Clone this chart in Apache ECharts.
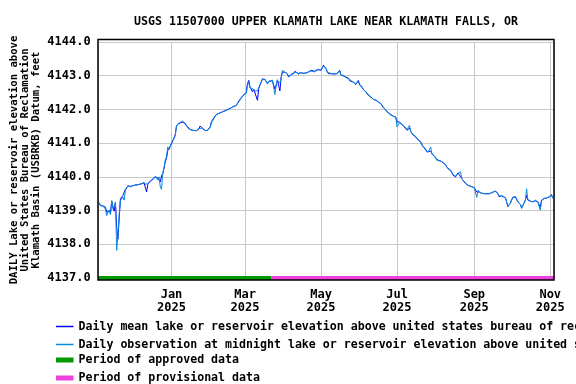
<!DOCTYPE html>
<html>
<head>
<meta charset="utf-8">
<script src="https://cdn.jsdelivr.net/npm/echarts@6/dist/echarts.min.js"></script>
<style>
    html, body { margin: 0; padding: 0; background: #fff; }
    #chart { width: 576px; height: 384px; }
</style>
</head>
<body>
<div id="chart"></div>
<script>
// dates of the readings (read off the plot, not every day)
const dates = [
    '2024-11-04','2024-11-05','2024-11-07','2024-11-09','2024-11-10','2024-11-12','2024-11-13','2024-11-14','2024-11-15','2024-11-16',
    '2024-11-17','2024-11-18','2024-11-19','2024-11-20','2024-11-21','2024-11-23','2024-11-24','2024-11-25','2024-11-27','2024-11-29',
    '2024-12-01','2024-12-03','2024-12-06','2024-12-08','2024-12-10','2024-12-11','2024-12-12','2024-12-13','2024-12-14','2024-12-15',
    '2024-12-17','2024-12-18','2024-12-19','2024-12-21','2024-12-22','2024-12-23','2024-12-24','2024-12-25','2024-12-26','2024-12-27',
    '2024-12-28','2024-12-29','2024-12-30','2024-12-31',
    '2025-01-01','2025-01-02','2025-01-03','2025-01-04','2025-01-05','2025-01-06','2025-01-08','2025-01-09','2025-01-10','2025-01-12',
    '2025-01-13','2025-01-14','2025-01-16','2025-01-18','2025-01-21','2025-01-23','2025-01-24','2025-01-26','2025-01-28','2025-01-30',
    '2025-02-01','2025-02-02','2025-02-04','2025-02-06','2025-02-09','2025-02-11','2025-02-14','2025-02-17','2025-02-19','2025-02-22',
    '2025-02-23','2025-02-25','2025-02-26','2025-02-28',
    '2025-03-02','2025-03-03','2025-03-04','2025-03-05','2025-03-07','2025-03-08','2025-03-09','2025-03-11','2025-03-12','2025-03-13',
    '2025-03-15','2025-03-17','2025-03-19','2025-03-20','2025-03-21','2025-03-23','2025-03-24','2025-03-25','2025-03-26','2025-03-27',
    '2025-03-28','2025-03-29','2025-03-30','2025-03-31',
    '2025-04-02','2025-04-04','2025-04-05','2025-04-07','2025-04-09','2025-04-10','2025-04-11','2025-04-13','2025-04-14','2025-04-15',
    '2025-04-17','2025-04-18','2025-04-19','2025-04-21','2025-04-22','2025-04-23','2025-04-24','2025-04-26','2025-04-27','2025-04-29',
    '2025-04-30',
    '2025-05-01','2025-05-02','2025-05-03','2025-05-04','2025-05-05','2025-05-06','2025-05-07','2025-05-08','2025-05-09','2025-05-11',
    '2025-05-12','2025-05-14','2025-05-15','2025-05-16','2025-05-17','2025-05-19','2025-05-20','2025-05-21','2025-05-23','2025-05-24',
    '2025-05-25','2025-05-27','2025-05-28','2025-05-29','2025-05-30','2025-05-31',
    '2025-06-01','2025-06-03','2025-06-04','2025-06-06','2025-06-07','2025-06-08','2025-06-10','2025-06-11','2025-06-12','2025-06-14',
    '2025-06-15','2025-06-16','2025-06-18','2025-06-19','2025-06-20','2025-06-22','2025-06-23','2025-06-24','2025-06-26','2025-06-27',
    '2025-06-28','2025-06-30',
    '2025-07-01','2025-07-03','2025-07-04','2025-07-05','2025-07-07','2025-07-08','2025-07-09','2025-07-10','2025-07-11','2025-07-12',
    '2025-07-13','2025-07-14','2025-07-16','2025-07-17','2025-07-18','2025-07-20','2025-07-21','2025-07-22','2025-07-24','2025-07-25',
    '2025-07-26','2025-07-28','2025-07-29','2025-07-31',
    '2025-08-01','2025-08-02','2025-08-03','2025-08-05','2025-08-06','2025-08-07','2025-08-09','2025-08-10','2025-08-11','2025-08-13',
    '2025-08-14','2025-08-15','2025-08-17','2025-08-18','2025-08-19','2025-08-21','2025-08-22','2025-08-23','2025-08-25','2025-08-26',
    '2025-08-27','2025-08-29','2025-08-30',
    '2025-09-01','2025-09-02','2025-09-03','2025-09-04','2025-09-05','2025-09-06','2025-09-07','2025-09-09','2025-09-10','2025-09-11',
    '2025-09-13','2025-09-14','2025-09-15','2025-09-16','2025-09-18','2025-09-19','2025-09-20','2025-09-21','2025-09-23','2025-09-24',
    '2025-09-26','2025-09-27','2025-09-28','2025-09-29','2025-09-30',
    '2025-10-01','2025-10-02','2025-10-04','2025-10-05','2025-10-06','2025-10-08','2025-10-09','2025-10-10','2025-10-12','2025-10-13',
    '2025-10-14','2025-10-16','2025-10-17','2025-10-18','2025-10-20','2025-10-21','2025-10-22','2025-10-24','2025-10-25','2025-10-27',
    '2025-10-28','2025-10-29','2025-10-31',
    '2025-11-01','2025-11-02','2025-11-03'
];

// daily mean elevation, feet
const meanElevation = [
    4139.22,4139.15,4139.14,4139.10,4138.95,4139.00,4138.92,4139.28,4139.10,4138.98,
    4139.25,4138.50,4138.15,4138.75,4139.35,4139.45,4139.42,4139.63,4139.73,4139.72,
    4139.74,4139.76,4139.77,4139.80,4139.82,4139.78,4139.55,4139.78,4139.82,4139.88,
    4139.92,4139.95,4140.00,4139.97,4140.02,4139.85,4140.03,4140.10,4140.25,4140.44,
    4140.55,4140.78,4140.85,4140.84,
    4140.98,4141.07,4141.14,4141.25,4141.50,4141.56,4141.60,4141.61,4141.62,4141.58,
    4141.51,4141.46,4141.41,4141.38,4141.37,4141.42,4141.51,4141.43,4141.37,4141.38,
    4141.48,4141.63,4141.75,4141.85,4141.90,4141.93,4141.98,4142.03,4142.07,4142.12,
    4142.19,4142.30,4142.35,4142.42,
    4142.50,4142.77,4142.86,4142.67,4142.52,4142.60,4142.56,4142.27,4142.62,4142.66,
    4142.91,4142.88,4142.77,4142.83,4142.86,4142.85,4142.80,4142.60,4142.70,4142.88,
    4142.85,4142.55,4142.96,4143.10,
    4143.11,4143.05,4142.96,4143.04,4143.06,4143.13,4143.08,4143.06,4143.10,4143.09,
    4143.07,4143.03,4143.08,4143.11,4143.13,4143.16,4143.12,4143.13,4143.17,4143.19,
    4143.16,
    4143.16,4143.22,4143.31,4143.27,4143.21,4143.12,4143.06,4143.08,4143.06,4143.05,
    4143.04,4143.06,4143.10,4143.16,4143.02,4142.99,4142.99,4142.96,4142.93,4142.85,
    4142.89,4142.81,4142.77,4142.74,4142.76,4142.86,
    4142.72,4142.66,4142.59,4142.52,4142.47,4142.43,4142.37,4142.33,4142.30,4142.27,
    4142.26,4142.22,4142.17,4142.12,4142.05,4141.99,4141.93,4141.90,4141.85,4141.83,
    4141.80,4141.76,
    4141.63,4141.63,4141.60,4141.55,4141.48,4141.45,4141.38,4141.40,4141.45,4141.35,
    4141.28,4141.24,4141.18,4141.14,4141.10,4141.04,4140.94,4140.90,4140.82,4140.74,
    4140.73,4140.76,4140.69,4140.62,
    4140.57,4140.51,4140.49,4140.47,4140.44,4140.42,4140.36,4140.28,4140.24,4140.20,
    4140.15,4140.05,4140.00,4140.06,4140.12,4140.00,4139.95,4139.90,4139.80,4139.78,
    4139.75,4139.72,4139.70,
    4139.68,4139.65,4139.55,4139.60,4139.55,4139.53,4139.51,4139.50,4139.49,4139.50,
    4139.50,4139.51,4139.53,4139.55,4139.58,4139.60,4139.50,4139.41,4139.44,4139.42,
    4139.38,4139.36,4139.13,4139.15,4139.22,
    4139.31,4139.38,4139.41,4139.36,4139.26,4139.18,4139.09,4139.15,4139.31,4139.45,
    4139.31,4139.28,4139.26,4139.26,4139.29,4139.27,4139.26,4139.10,4139.31,4139.36,
    4139.39,4139.37,4139.40,
    4139.42,4139.46,4139.38
];

// observation at midnight, feet
const midnightElevation = [
    4139.24,4139.14,4139.14,4139.04,4138.85,4139.02,4138.88,4139.30,4139.05,4139.00,
    4139.24,4137.82,4138.30,4138.90,4139.30,4139.40,4139.31,4139.60,4139.74,4139.70,
    4139.74,4139.75,4139.78,4139.79,4139.84,4139.78,4139.74,4139.80,4139.82,4139.87,
    4139.94,4139.95,4140.02,4139.90,4140.00,4139.70,4139.63,4140.12,4140.28,4140.50,
    4140.60,4140.89,4140.80,4140.82,
    4141.00,4141.05,4141.16,4141.22,4141.53,4141.55,4141.62,4141.64,4141.65,4141.59,
    4141.52,4141.45,4141.40,4141.38,4141.37,4141.43,4141.48,4141.45,4141.37,4141.39,
    4141.46,4141.60,4141.73,4141.85,4141.90,4141.93,4141.97,4142.03,4142.08,4142.12,
    4142.17,4142.28,4142.35,4142.45,
    4142.47,4142.72,4142.80,4142.64,4142.62,4142.55,4142.58,4142.55,4142.65,4142.62,
    4142.88,4142.90,4142.75,4142.83,4142.84,4142.87,4142.83,4142.44,4142.74,4142.86,
    4142.87,4142.78,4142.92,4143.16,
    4143.10,4143.06,4142.98,4143.02,4143.09,4143.10,4143.10,4143.04,4143.10,4143.11,
    4143.07,4143.05,4143.08,4143.12,4143.13,4143.14,4143.12,4143.11,4143.17,4143.17,
    4143.16,
    4143.18,4143.22,4143.28,4143.27,4143.23,4143.12,4143.08,4143.08,4143.04,4143.05,
    4143.06,4143.07,4143.10,4143.14,4143.01,4143.02,4142.98,4142.94,4142.92,4142.87,
    4142.86,4142.80,4142.76,4142.76,4142.72,4142.82,
    4142.74,4142.68,4142.58,4142.53,4142.45,4142.46,4142.36,4142.35,4142.30,4142.29,
    4142.24,4142.22,4142.18,4142.12,4142.07,4141.98,4141.95,4141.90,4141.83,4141.84,
    4141.80,4141.78,
    4141.48,4141.60,4141.62,4141.55,4141.50,4141.48,4141.40,4141.40,4141.53,4141.35,
    4141.30,4141.24,4141.20,4141.13,4141.10,4141.02,4140.96,4140.90,4140.79,4140.75,
    4140.73,4140.89,4140.67,4140.62,
    4140.57,4140.49,4140.49,4140.47,4140.45,4140.42,4140.36,4140.30,4140.24,4140.18,
    4140.15,4140.07,4140.02,4140.06,4140.10,4140.15,4139.94,4139.90,4139.82,4139.78,
    4139.74,4139.72,4139.71,
    4139.68,4139.63,4139.39,4139.60,4139.57,4139.53,4139.50,4139.50,4139.48,4139.50,
    4139.50,4139.52,4139.53,4139.57,4139.58,4139.61,4139.50,4139.43,4139.44,4139.44,
    4139.38,4139.34,4139.11,4139.15,4139.22,
    4139.33,4139.40,4139.41,4139.38,4139.27,4139.18,4139.06,4139.15,4139.30,4139.65,
    4139.33,4139.28,4139.24,4139.26,4139.31,4139.27,4139.25,4139.01,4139.29,4139.36,
    4139.38,4139.37,4139.41,
    4139.42,4139.48,4139.36
];

// approved / provisional periods
const approvedPeriod = ['2024-11-03', '2025-03-22'];
const provisionalPeriod = ['2025-03-22', '2025-11-04'];
const periodLevel = 4137;

const xRange = ['2024-11-03', '2025-11-04'];
const yRange = [4137, 4144];
const monthNames = ['Jan','Feb','Mar','Apr','May','Jun','Jul','Aug','Sep','Oct','Nov','Dec'];

const names = [
    'Daily mean lake or reservoir elevation above united states bureau of reclamation klamath basin (usbrkb) datum, feet',
    'Daily observation at midnight lake or reservoir elevation above united states bureau of reclamation klamath basin (usbrkb) datum, feet',
    'Period of approved data',
    'Period of provisional data'
];

const FONT = "'DejaVu Sans Mono', monospace";
const legendText = { fontFamily: FONT, fontSize: 11.6, fontWeight: 'bold', color: '#000', lineHeight: 11.5 };

let chart = echarts.init(document.getElementById('chart'), null, { renderer: 'canvas' });

let option = {
    animation: false,
    title: {
        text: 'USGS 11507000 UPPER KLAMATH LAKE NEAR KLAMATH FALLS, OR',
        left: 134,
        top: 16,
        padding: 0,
        textStyle: { fontFamily: FONT, fontSize: 11.6, fontWeight: 'bold', color: '#000' }
    },
    grid: { left: 98, right: 22, top: 42, bottom: 106, containLabel: false, outerBoundsMode: 'none' },
    legend: [{
        data: [names[0], names[1]],
        orient: 'vertical',
        left: 56,
        top: 320.5,
        padding: 0,
        itemWidth: 17.5,
        itemHeight: 1.5,
        itemGap: 6,
        itemTextGap: 6.3,
        icon: 'rect',
        selectedMode: false,
        textStyle: legendText
    }, {
        data: [names[2], names[3]],
        orient: 'vertical',
        left: 56,
        bottom: 0,
        padding: 0,
        itemWidth: 17.5,
        itemHeight: 5,
        itemGap: 6,
        itemTextGap: 6.3,
        icon: 'rect',
        selectedMode: false,
        textStyle: legendText
    }],
    xAxis: {
        type: 'time',
        min: xRange[0],
        max: xRange[1],
        splitNumber: 6,
        axisLine: { show: false },
        axisTick: { show: false },
        splitLine: { show: true, lineStyle: { color: '#c8c8c8', width: 1 } },
        axisLabel: {
            margin: 10,
            hideOverlap: false,
            fontFamily: FONT,
            fontSize: 12,
            fontWeight: 'bold',
            color: '#000',
            lineHeight: 13,
            formatter: function (value) {
                let d = new Date(value);
                if (d.getDate() !== 1) return '';
                return monthNames[d.getMonth()] + '\n' + d.getFullYear();
            }
        }
    },
    yAxis: {
        type: 'value',
        min: yRange[0],
        max: yRange[1],
        interval: 1,
        name: 'DAILY Lake or reservoir elevation above\nUnited States Bureau of Reclamation\nKlamath Basin (USBRKB) Datum, feet',
        nameLocation: 'middle',
        nameRotate: 90,
        nameGap: 55.7,
        nameMoveOverlap: false,
        nameTextStyle: { fontFamily: FONT, fontSize: 10.6, fontWeight: 'bold', color: '#000', lineHeight: 11.2 },
        axisLine: { show: false },
        axisTick: { show: false },
        splitLine: { show: true, lineStyle: { color: '#c8c8c8', width: 1 } },
        axisLabel: {
            margin: 7.3,
            fontFamily: FONT,
            fontSize: 12,
            fontWeight: 'bold',
            color: '#000',
            formatter: v => v.toFixed(1)
        }
    },
    graphic: [{
        // plot frame
        type: 'rect',
        z: 100,
        silent: true,
        shape: { x: 98, y: 39.5, width: 456, height: 240.5 },
        style: { fill: 'none', stroke: '#000', lineWidth: 1.5 }
    }],
    series: [{
        name: names[0],
        type: 'line',
        color: '#0000ff',
        showSymbol: false,
        lineStyle: { width: 1 },
        data: dates.map((d, i) => [d, meanElevation[i]])
    }, {
        name: names[1],
        type: 'line',
        color: '#0a8ad8',
        showSymbol: false,
        lineStyle: { width: 1 },
        data: dates.map((d, i) => [d, midnightElevation[i]])
    }, {
        name: names[2],
        type: 'line',
        color: '#009900',
        showSymbol: false,
        clip: false,
        z: 3,
        lineStyle: { width: 4 },
        data: approvedPeriod.map(d => [d, periodLevel])
    }, {
        name: names[3],
        type: 'line',
        color: '#ee44dd',
        showSymbol: false,
        clip: false,
        z: 3,
        lineStyle: { width: 4 },
        data: provisionalPeriod.map(d => [d, periodLevel])
    }]
};

chart.setOption(option);
</script>
</body>
</html>
